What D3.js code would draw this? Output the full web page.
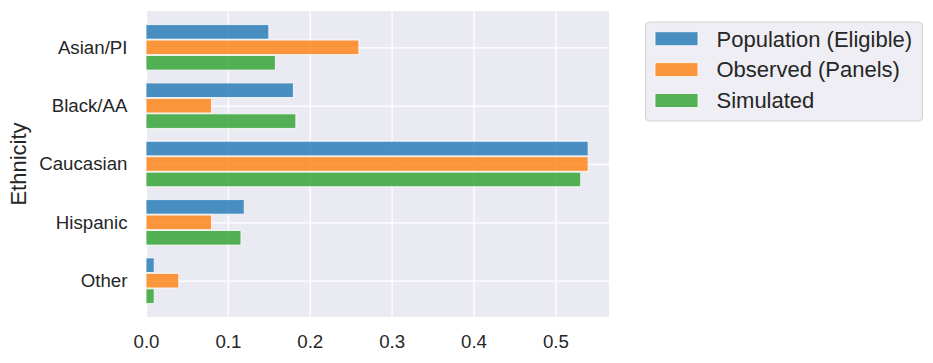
<!DOCTYPE html>
<html>
<head>
<meta charset="utf-8">
<script src="https://cdn.jsdelivr.net/npm/d3@7"></script>
<style>
  body { margin: 0; background: #fff; }
  text { font-family: "Liberation Sans", Arial, sans-serif; fill: #262626; }
</style>
</head>
<body>
<div id="container"></div>
<script>
var categories = ["Asian/PI", "Black/AA", "Caucasian", "Hispanic", "Other"];
var seriesNames = ["Population (Eligible)", "Observed (Panels)", "Simulated"];
var population = [0.15, 0.18, 0.54, 0.12, 0.01];
var observed = [0.26, 0.08, 0.54, 0.08, 0.04];
var simulated = [0.158, 0.183, 0.531, 0.116, 0.01];
var xTicks = [0, 0.1, 0.2, 0.3, 0.4, 0.5];
var colors = ["#1f77b4", "#ff7f0e", "#2ca02c"];

var series = [population, observed, simulated];

var W = 933, H = 363;
var plotL = 146, plotR = 609, plotT = 11, plotB = 317;

var svg = d3.select("#container")
  .append("svg")
  .attr("width", W)
  .attr("height", H);

var x = d3.scaleLinear().domain([0, 0.5655]).range([plotL, plotR]);
var y = d3.scaleLinear().domain([-0.623, 4.623]).range([plotT, plotB]);

svg.append("rect")
  .attr("x", plotL).attr("y", plotT)
  .attr("width", plotR - plotL).attr("height", plotB - plotT)
  .attr("fill", "#eaeaf2");

// grid + tick labels
var xAxis = svg.append("g")
  .attr("transform", "translate(0," + plotB + ")")
  .call(d3.axisBottom(x).tickValues(xTicks).tickFormat(d3.format(".1f"))
    .tickSize(-(plotB - plotT)).tickPadding(17.5));

var yAxis = svg.append("g")
  .attr("transform", "translate(" + plotL + ",0)")
  .call(d3.axisLeft(y).tickValues(d3.range(categories.length))
    .tickFormat(function(i) { return categories[i]; })
    .tickSize(-(plotR - plotL)).tickPadding(18.5));

[xAxis, yAxis].forEach(function(a) {
  a.select(".domain").remove();
  a.selectAll("line").attr("stroke", "#fff").attr("stroke-width", 1.3);
  a.selectAll("text")
    .style("font-family", "'Liberation Sans', Arial, sans-serif")
    .style("font-size", "18.7px")
    .attr("fill", "#262626");
});

var barH = 0.25, offset = 0.265;

series.forEach(function(vals, s) {
  svg.append("g")
    .selectAll("rect")
    .data(vals)
    .enter().append("rect")
      .attr("x", x(0))
      .attr("y", function(d, i) { return y(i + (s - 1) * offset - barH / 2); })
      .attr("width", function(d) { return x(d) - x(0); })
      .attr("height", y(barH) - y(0))
      .attr("fill", colors[s])
      .attr("fill-opacity", 0.8)
      .attr("stroke", "#fff")
      .attr("stroke-opacity", 0.8)
      .attr("stroke-width", 1);
});

svg.append("text")
  .attr("transform", "translate(25.5," + ((plotT + plotB) / 2) + ") rotate(-90)")
  .attr("text-anchor", "middle")
  .style("font-size", "22px")
  .text("Ethnicity");

// legend
var legend = svg.append("g").attr("transform", "translate(645,22)");
legend.append("rect")
  .attr("x", 0.5).attr("y", 0)
  .attr("width", 277).attr("height", 99)
  .attr("rx", 4)
  .attr("fill", "#eeeef4")
  .attr("stroke", "#d3d3d3")
  .attr("stroke-width", 1);

var legendItem = legend.selectAll(".legendItem")
  .data(seriesNames)
  .enter().append("g")
    .classed("legendItem", true)
    .attr("transform", function(d, i) { return "translate(0," + (16.7 + i * 30.9) + ")"; });

legendItem.append("rect")
  .attr("x", 10).attr("y", -7)
  .attr("width", 43).attr("height", 14)
  .attr("fill", function(d, i) { return colors[i]; })
  .attr("fill-opacity", 0.8)
  .attr("stroke", "#fff")
  .attr("stroke-opacity", 0.8);

legendItem.append("text")
  .attr("x", 71.5)
  .attr("y", 7.8)
  .style("font-size", "22px")
  .text(function(d) { return d; });
</script>
</body>
</html>
